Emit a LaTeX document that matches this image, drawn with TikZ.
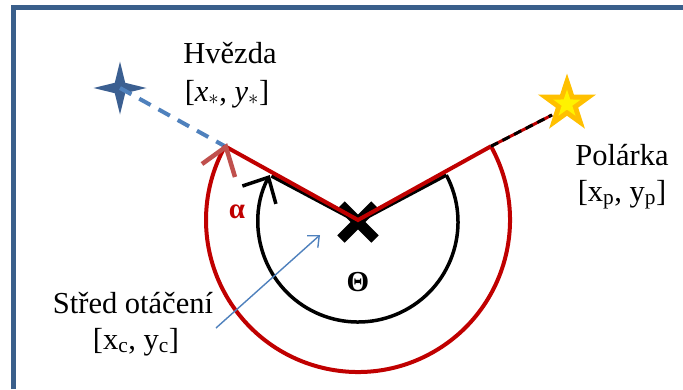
\documentclass[tikz,border=0pt]{standalone}
\usepackage{fontspec}
\setmainfont{Liberation Serif}
\usetikzlibrary{arrows.meta,shapes.geometric}
\definecolor{frameblue}{HTML}{3A5F8B}
\definecolor{lineblue}{HTML}{4F81BD}
\definecolor{darkred}{HTML}{C00000}
\definecolor{softred}{HTML}{C0504D}
\definecolor{starblue}{HTML}{3B5F91}
\definecolor{gold}{HTML}{FFC000}
\begin{document}
\begin{tikzpicture}[x=1pt,y=1pt,
  lbl/.style={font=\fontsize{30.5}{36}\selectfont, inner sep=0, anchor=base},
  greek/.style={font=\fontsize{29}{32}\selectfont\bfseries, inner sep=0}]
\useasboundingbox (0,0) rectangle (683,-389);
\fill[white] (0,0) rectangle (683,-389);
\draw[frameblue, line width=5pt] (13.5,-389) -- (13.5,-7.5) -- (683,-7.5);

\coordinate (C) at (358,-222);
\coordinate (CR) at (358,-220);
\coordinate (BL) at ([shift={(152:98)}]C);
\coordinate (BR) at ([shift={(28:100)}]C);
\coordinate (RL) at ([shift={(151:151)}]CR);
\coordinate (RR) at ([shift={(29:152)}]CR);
\coordinate (ra1) at (202,-164);
\coordinate (ra2) at (235,-177);
\coordinate (pe) at (552,-115);
\coordinate (as) at (216,-328);
\coordinate (ae) at (320,-235);

% black angle
\draw[line width=3.5pt, -{Straight Barb[length=20pt,width=38pt]}]
  (BR) arc[start angle=28, end angle=-208, radius=100];
\draw[line width=3.5pt] (BL) -- (C) -- (BR);
% cross
\draw[line width=10.5pt] ([shift={(-17,-17)}]C) -- ([shift={(17,17)}]C);
\draw[line width=10.5pt] ([shift={(-17,17)}]C) -- ([shift={(17,-17)}]C);

% blue star and dashed line
\node[star, star points=4, star point ratio=3.6, minimum size=53pt, inner sep=0pt, fill=starblue] (bstar) at (120,-88) {};
\draw[lineblue, line width=4pt, dash pattern=on 13pt off 9pt] (bstar.center) -- (RL);

% red angle
\draw[darkred, line width=4pt] (RL) -- (CR) -- (RR);
\draw[darkred, line width=4pt] (RR) arc[start angle=29, end angle=-209, radius=152];
\draw[softred, line width=4.5pt] (ra1) -- (RL) -- (ra2);

% polar star and dashed line
\draw[darkred, line width=3pt] (RR) -- (pe);
\draw[black, line width=3pt, dash pattern=on 8pt off 5pt] (RR) -- (pe);
\node[star, star points=5, star point ratio=2.6, minimum size=61pt, inner sep=0pt, fill=gold] (ystar) at (567,-104) {};
\node[star, star points=5, star point ratio=2.6, minimum size=29pt, inner sep=0pt, fill=yellow] (ystarin) at (ystar.center) {};

% thin blue arrow
\draw[lineblue, line width=1.4pt, -{Straight Barb[length=9pt,width=16pt]}] (as) -- (ae);

% labels
\node[lbl] (hv) at (230,-63) {Hvězda};
\node[lbl] (hvc) at (227,-101) {[\textit{x}$_{\ast}$, \textit{y}$_{\ast}$]};
\node[lbl] (po) at (622,-165) {Polárka};
\node[lbl] (poc) at (622,-201) {[x\textsubscript{p}, y\textsubscript{p}]};
\node[lbl] (st) at (133,-313) {Střed otáčení};
\node[lbl] (stc) at (136,-349) {[x\textsubscript{c}, y\textsubscript{c}]};
\node[greek, text=darkred] (al) at (237,-212) {α};
\node[greek] (th) at (358,-282) {Θ};
\end{tikzpicture}
\end{document}
